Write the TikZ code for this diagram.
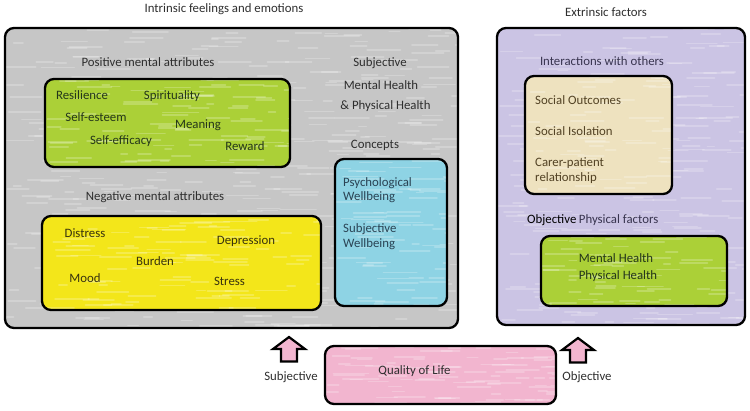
\documentclass[tikz,border=0pt]{standalone}
\usepackage{fontspec}
\setmainfont{Carlito}
\usetikzlibrary{calc}
\definecolor{grayfill}{HTML}{C6C6C6}
\definecolor{greenfill}{HTML}{ABD037}
\definecolor{yellowfill}{HTML}{F3E61A}
\definecolor{bluefill}{HTML}{8ED3E4}
\definecolor{pinkfill}{HTML}{F2B5CF}
\definecolor{lavfill}{HTML}{CBC4E4}
\definecolor{beigefill}{HTML}{EEE2BF}
\definecolor{txt}{HTML}{2E2E2E}
\definecolor{greentxt}{HTML}{24361A}
\definecolor{yellowtxt}{HTML}{38330E}
\definecolor{bluetxt}{HTML}{2A4354}
\definecolor{beigetxt}{HTML}{524224}
\definecolor{lavtxt}{HTML}{38344F}
\begin{document}
\begin{tikzpicture}[x=1pt,y=-1pt,
  box/.style={draw=black, line width=2.3pt, rounded corners=9pt, inner sep=0pt},
  tex/.style n args={3}{path picture={
    \foreach \k in {1,...,#3}{
      \pgfmathsetmacro\sx{rnd*#1}
      \pgfmathsetmacro\sy{rnd*#2}
      \pgfmathsetmacro\sl{6+rnd*30}
      \draw[white, opacity=.22, line width=1.8pt, line cap=round]
        ($(path picture bounding box.north west)+(\sx,\sy)$) -- ++(\sl,0);
    }}},
  lbl/.style={font=\fontsize{12.8}{14}\selectfont, text=txt, inner sep=0pt},
  hollow/.style={draw=black, line width=2.2pt, fill=pinkfill, line join=miter}
]
\pgfmathsetseed{7}
\useasboundingbox (0,0) rectangle (750,410);

% outer boxes
\node[box, fill=grayfill, minimum width=453pt, minimum height=300pt, tex={453}{300}{420}] (intr) at (231.5,178) {};
\node[box, fill=lavfill, minimum width=248pt, minimum height=297pt, tex={248}{297}{240}] (extr) at (621,176.5) {};

% titles
\node[lbl] (tintr) at (224,9) {Intrinsic feelings and emotions};
\node[lbl] (textr) at (606,12) {Extrinsic factors};

% positive
\node[lbl] (tpos) at (148,62) {Positive mental attributes};
\node[box, fill=greenfill, minimum width=245pt, minimum height=88pt, tex={245}{88}{90}] (pos) at (167.5,123) {};
\begin{scope}[every node/.style={lbl, text=greentxt}]
\node (res) at (82,95) {Resilience};
\node (spi) at (172,96) {Spirituality};
\node (ses) at (96,117) {Self-esteem};
\node (mea) at (198,125) {Meaning};
\node (sef) at (121,141) {Self-efficacy};
\node (rew) at (245,146) {Reward};
\end{scope}

% subjective concepts
\node[lbl] (subj) at (380,63) {Subjective};
\node[lbl] (mh) at (381,85) {Mental Health};
\node[lbl] (ph) at (385.5,106) {\& Physical Health};
\node[lbl] (conc) at (375,145) {Concepts};
\node[box, fill=bluefill, minimum width=112pt, minimum height=147pt, tex={112}{147}{70}] (blue) at (391,232.5) {};
\begin{scope}[every node/.style={lbl, text=bluetxt, anchor=west}]
\node (psy1) at (343,183) {Psychological};
\node (psy2) at (343,197.5) {Wellbeing};
\node (sw1) at (343,229) {Subjective};
\node (sw2) at (343,244) {Wellbeing};
\end{scope}

% negative
\node[lbl] (tneg) at (155,197) {Negative mental attributes};
\node[box, fill=yellowfill, minimum width=279pt, minimum height=94pt, tex={279}{94}{90}] (neg) at (181.5,263) {};
\begin{scope}[every node/.style={lbl, text=yellowtxt}]
\node (dis) at (85,233) {Distress};
\node (dep) at (246,241) {Depression};
\node (bur) at (155,261) {Burden};
\node (moo) at (85,278) {Mood};
\node (str) at (229.5,281) {Stress};
\end{scope}

% interactions
\node[lbl, text=lavtxt] (tint) at (602,61) {Interactions with others};
\node[box, fill=beigefill, minimum width=147pt, minimum height=118pt, tex={147}{118}{60}] (soc) at (598.5,135) {};
\begin{scope}[every node/.style={lbl, text=beigetxt, anchor=west}]
\node (so) at (535,100) {Social Outcomes};
\node (si) at (535,131) {Social Isolation};
\node (cp1) at (535,163) {Carer-patient};
\node (cp2) at (535,178) {relationship};
\end{scope}

% objective physical
\node[lbl, anchor=west, text=black] (tobj) at (527,220) {Objective};
\node[lbl, anchor=west, text=lavtxt] (tphys) at (tobj.east) {\,Physical factors};
\node[box, fill=greenfill, minimum width=186pt, minimum height=70pt, tex={186}{70}{60}] (phys) at (634,271) {};
\node[lbl, text=greentxt] (mh2) at (616,258) {Mental Health};
\node[lbl, text=greentxt] (ph2) at (618,276) {Physical Health};

% quality of life
\node[box, fill=pinkfill, minimum width=231pt, minimum height=58pt, tex={231}{58}{90}] (qol) at (440.5,375) {};
\node[lbl] (tqol) at (414.5,371) {Quality of Life};

% hollow arrows
\coordinate (a1) at (289,337);
\coordinate (a2) at (578,338);
\foreach \c in {a1,a2}{
  \draw[hollow] (\c) -- ++(16,12) -- ++(-8,0) -- ++(0,12.5) -- ++(-16,0) -- ++(0,-12.5) -- ++(-8,0) -- cycle;
}
\node[lbl] (lsubj) at (291,377) {Subjective};
\node[lbl] (lobj) at (587,377) {Objective};
\end{tikzpicture}
\end{document}
